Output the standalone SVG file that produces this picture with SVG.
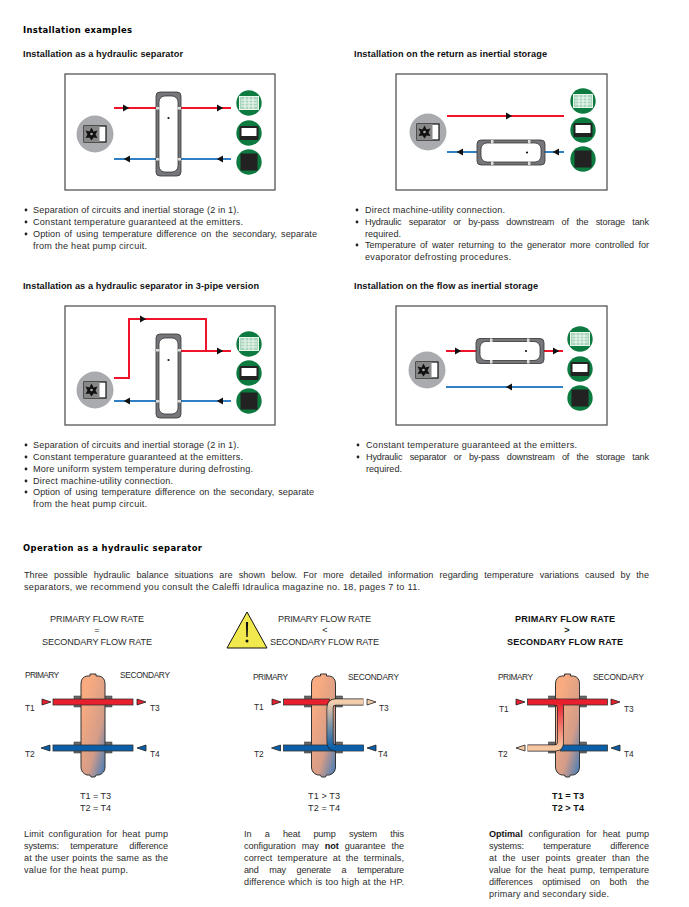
<svg xmlns="http://www.w3.org/2000/svg" width="689" height="907" viewBox="0 0 689 907">
<style>
text{font-family:"Liberation Sans",Arial,sans-serif;fill:#2b2b2b;font-size:9.1px}
.h{font-weight:bold;fill:#111;font-size:9.2px}
.h2{font-family:"DejaVu Sans",sans-serif;font-weight:bold;fill:#000;font-size:8.4px}
.b{font-weight:bold;fill:#111}
.s{font-size:8.4px}
.box{fill:#fff;stroke:#555;stroke-width:1.3}
.red{fill:none;stroke:#f0142a;stroke-width:2}
.blue{fill:none;stroke:#2f80c4;stroke-width:2}
.br{fill:#e81f2d;stroke:#333;stroke-width:.8}
.bb{fill:#0b5fa8;stroke:#333;stroke-width:.8}
.fl{fill:#6a6a6a;stroke:#333;stroke-width:.5}
</style>
<defs>
<linearGradient id="gb" x1="0.2" y1="0.2" x2="0.9" y2="1"><stop offset="0" stop-color="#f8ab80"/><stop offset=".6" stop-color="#d49c88"/><stop offset="1" stop-color="#4f7fb5"/></linearGradient>
<linearGradient id="g2" gradientUnits="userSpaceOnUse" x1="0" y1="702" x2="0" y2="748"><stop offset="0" stop-color="#f4cdaa"/><stop offset="1" stop-color="#0b5fa8"/></linearGradient>
<linearGradient id="g3" gradientUnits="userSpaceOnUse" x1="0" y1="702" x2="0" y2="748"><stop offset="0" stop-color="#e81f2d"/><stop offset="1" stop-color="#f6c8a2"/></linearGradient>
<path id="ah" d="M-3-3.4L3.2 0L-3 3.4z" fill="#111"/>
<g id="hp"><circle r="18.500" fill="#a9abae"/><rect x="-11" y="-8" width="22" height="16" fill="#fff" stroke="#111" stroke-width="1.200"/><rect x="-11" y="-8" width="15.500" height="16" fill="#888"/><path d="M-3.500-6.500L-1.500-2.500L2.500-3.500L0.500 0.500L2.500 4L-1.500 3.500L-3.500 6.500L-5.500 3.500L-9.500 4L-7.500 0.500L-9.500-3.500L-5.500-2.500Z" fill="#111"/><circle cx="-3.500" r="1.300" fill="#aaa"/></g>
<g id="e1"><circle r="12.700" fill="#0d7a40"/><rect x="-9.500" y="-6.500" width="19" height="13" fill="#a8d5bb" stroke="#e8f4ec" stroke-width="1"/><path d="M-8-3H8M-8 0H8M-8 3H8M-4-6V6M0-6V6M4-6V6" stroke="#fff" stroke-width=".8"/></g>
<g id="e2"><circle r="12.700" fill="#0d7a40"/><rect x="-9.500" y="-7" width="19" height="14" rx="1.500" fill="#222"/><rect x="-7.500" y="-5" width="15" height="8" fill="#fff"/></g>
<g id="e3"><circle r="12.700" fill="#0d7a40"/><rect x="-8.500" y="-8.500" width="17" height="17" fill="#222"/></g>
<g id="tank"><rect x="-12.500" y="-42" width="25" height="84" rx="4" fill="#75777a" stroke="#333" stroke-width=".8"/><rect x="-9.500" y="-38" width="19" height="76" rx="6" fill="#fff" stroke="#222" stroke-width=".7"/><circle cy="-16" r="1.100" fill="#111"/><rect x="-12.500" y="-27" width="3.500" height="2.500" fill="#ddd"/><rect x="9" y="-27" width="3.500" height="2.500" fill="#ddd"/><rect x="-12.500" y="24" width="3.500" height="2.500" fill="#ddd"/><rect x="9" y="24" width="3.500" height="2.500" fill="#ddd"/></g>
<g id="htank"><rect x="-34" y="-12.500" width="68" height="25" rx="4" fill="#75777a" stroke="#333" stroke-width=".8"/><rect x="-30" y="-9.500" width="60" height="19" rx="6" fill="#fff" stroke="#222" stroke-width=".7"/><circle cx="16" r="1.100" fill="#111"/><rect x="-20" y="-12.500" width="2.500" height="3.500" fill="#ddd"/><rect x="17" y="-12.500" width="2.500" height="3.500" fill="#ddd"/><rect x="-20" y="9" width="2.500" height="3.500" fill="#ddd"/><rect x="17" y="9" width="2.500" height="3.500" fill="#ddd"/></g>
<path id="body" d="M-12 684Q-12 677-6 676L-3 676L-3 674L3 674L3 676L6 676Q12 677 12 684V767Q12 773 6 775L3 775L2 777L-2 777L-3 775L-6 775Q-12 773-12 767Z" fill="url(#gb)" stroke="#333"/>
<g id="fls"><rect x="-19" y="696" width="38" height="11" class="fl"/><rect x="-19" y="742" width="38" height="11" class="fl"/></g>
<path id="tr" d="M-4.500-3L4.500 0L-4.500 3z" stroke="#222" stroke-width=".8"/>
</defs>
<rect width="689" height="907" fill="#fff"/>

<g id="headings">
<text class="h2" x="23" y="33" textLength="109">Installation examples</text>
<text class="h" x="23" y="57" textLength="160">Installation as a hydraulic separator</text>
<text class="h" x="354" y="57" textLength="193">Installation on the return as inertial storage</text>
<text class="h" x="23" y="289" textLength="236">Installation as a hydraulic separator in 3-pipe version</text>
<text class="h" x="354" y="289" textLength="184">Installation on the flow as inertial storage</text>
<text class="h2" x="23" y="551" textLength="179">Operation as a hydraulic separator</text>
</g>

<g id="panels">
<rect class="box" x="65" y="74" width="210" height="116"/>
<rect class="box" x="396" y="74" width="211" height="116"/>
<rect class="box" x="65" y="306" width="210" height="119"/>
<rect class="box" x="396" y="306" width="211" height="119"/>
</g>

<g id="connectors">
<path class="red" d="M114 108H156M181 108H231"/>
<path class="blue" d="M114 159H156M181 159H231"/>
<use href="#ah" x="126" y="108"/><use href="#ah" x="220" y="108"/>
<use href="#ah" transform="translate(127 159) rotate(180)"/><use href="#ah" transform="translate(220 159) rotate(180)"/>
<path class="red" d="M447 116H564"/>
<path class="blue" d="M447 152H477M545 152H564"/>
<use href="#ah" x="509" y="116"/>
<use href="#ah" transform="translate(460 152) rotate(180)"/><use href="#ah" transform="translate(556 152) rotate(180)"/>
<path class="red" d="M114 378H129V319H206V351M181 351H231"/>
<path class="blue" d="M114 401H156M181 401H231"/>
<use href="#ah" x="143" y="319"/><use href="#ah" x="220" y="351"/>
<use href="#ah" transform="translate(127 401) rotate(180)"/><use href="#ah" transform="translate(220 401) rotate(180)"/>
<path class="red" d="M446 351H476M544 351H563"/>
<path class="blue" d="M446 387H563"/>
<use href="#ah" x="458" y="351"/><use href="#ah" x="556" y="351"/>
<use href="#ah" transform="translate(509 387) rotate(180)"/>
</g>

<g id="install-1">
<use href="#hp" x="95" y="134"/><use href="#tank" x="168.500" y="134"/>
<use href="#e1" x="249" y="103"/><use href="#e2" x="249" y="133"/><use href="#e3" x="249" y="162"/>
</g>
<g id="install-2">
<use href="#hp" x="428" y="132"/><use href="#htank" x="511" y="152.500"/>
<use href="#e1" x="583" y="101"/><use href="#e2" x="583" y="130"/><use href="#e3" x="583" y="159"/>
</g>
<g id="install-3">
<use href="#hp" x="95" y="390"/><use href="#tank" x="168.500" y="376"/>
<use href="#e1" x="249" y="344"/><use href="#e2" x="249" y="373"/><use href="#e3" x="249" y="401"/>
</g>
<g id="install-4">
<use href="#hp" x="427" y="370"/><use href="#htank" x="510" y="351"/>
<use href="#e1" x="580" y="339"/><use href="#e2" x="580" y="369"/><use href="#e3" x="580" y="398"/>
</g>

<g id="bullets" fill="#222">
<circle cx="26" cy="210" r="1.400"/><circle cx="26" cy="222" r="1.400"/><circle cx="26" cy="234" r="1.400"/>
<circle cx="357" cy="210" r="1.400"/><circle cx="357" cy="222" r="1.400"/><circle cx="357" cy="245" r="1.400"/>
<circle cx="26" cy="445" r="1.400"/><circle cx="26" cy="457" r="1.400"/><circle cx="26" cy="469" r="1.400"/><circle cx="26" cy="481" r="1.400"/><circle cx="26" cy="492" r="1.400"/>
<circle cx="358" cy="445" r="1.400"/><circle cx="358" cy="457" r="1.400"/>
</g>
<g id="text-1">
<text x="33" y="213" textLength="206">Separation of circuits and inertial storage (2 in 1).</text>
<text x="33" y="225" textLength="210">Constant temperature guaranteed at the emitters.</text>
<text x="33" y="237" textLength="284" word-spacing="1.500">Option of using temperature difference on the secondary, separate</text>
<text x="33" y="249" textLength="114">from the heat pump circuit.</text>
</g>
<g id="text-2">
<text x="365" y="213" textLength="140">Direct machine-utility connection.</text>
<text x="365" y="225" textLength="284" word-spacing="5">Hydraulic separator or by-pass downstream of the storage tank</text>
<text x="365" y="237" textLength="36">required.</text>
<text x="365" y="248" textLength="284" word-spacing="1.800">Temperature of water returning to the generator more controlled for</text>
<text x="365" y="260" textLength="146">evaporator defrosting procedures.</text>
</g>
<g id="text-3">
<text x="33" y="448" textLength="206">Separation of circuits and inertial storage (2 in 1).</text>
<text x="33" y="460" textLength="210">Constant temperature guaranteed at the emitters.</text>
<text x="33" y="472" textLength="220">More uniform system temperature during defrosting.</text>
<text x="33" y="484" textLength="140">Direct machine-utility connection.</text>
<text x="33" y="495" textLength="281" word-spacing="1.200">Option of using temperature difference on the secondary, separate</text>
<text x="33" y="507" textLength="114">from the heat pump circuit.</text>
</g>
<g id="text-4">
<text x="366" y="448" textLength="211">Constant temperature guaranteed at the emitters.</text>
<text x="366" y="460" textLength="283" word-spacing="5">Hydraulic separator or by-pass downstream of the storage tank</text>
<text x="366" y="472" textLength="36">required.</text>
</g>

<g id="intro">
<text x="24" y="578" textLength="625" word-spacing="3.500">Three possible hydraulic balance situations are shown below. For more detailed information regarding temperature variations caused by the</text>
<text x="24" y="590" textLength="396">separators, we recommend you consult the Caleffi Idraulica magazine no. 18, pages 7 to 11.</text>
</g>

<g id="flow-1">
<text x="50" y="622" textLength="94">PRIMARY FLOW RATE</text>
<text x="97" y="633" text-anchor="middle">=</text>
<text x="42" y="645" textLength="110">SECONDARY FLOW RATE</text>
</g>
<g id="warning">
<path d="M247 612L267 648H227Z" fill="#f2e94e" stroke="#111" stroke-width="1"/>
<path d="M245.900 622H248.100L247.700 637H246.300Z" fill="#111"/><circle cx="247" cy="641" r="1.500" fill="#111"/>
</g>
<g id="flow-2">
<text x="278" y="622" textLength="93">PRIMARY FLOW RATE</text>
<text x="325" y="633" text-anchor="middle">&lt;</text>
<text x="270" y="645" textLength="109">SECONDARY FLOW RATE</text>
</g>
<g id="flow-3">
<text class="b" x="515" y="622" textLength="100">PRIMARY FLOW RATE</text>
<text class="b" x="567" y="633" text-anchor="middle">&gt;</text>
<text class="b" x="507" y="645" textLength="116">SECONDARY FLOW RATE</text>
</g>

<g id="sep-1">
<g transform="translate(93 0)">
<use href="#fls"/><use href="#body"/>
<rect class="br" x="-40" y="699" width="80" height="6"/>
<rect class="bb" x="-40" y="745" width="80" height="6"/>
</g>
<use href="#tr" x="46.500" y="702" fill="#e81f2d"/><use href="#tr" x="141.500" y="702" fill="#e81f2d"/>
<use href="#tr" transform="translate(45.500 748) rotate(180)" fill="#0b5fa8"/><use href="#tr" transform="translate(141.500 748) rotate(180)" fill="#0b5fa8"/>
<text class="s" x="25" y="678" textLength="34">PRIMARY</text><text class="s" x="120" y="678" textLength="50">SECONDARY</text>
<text class="s" x="25" y="711">T1</text><text class="s" x="150" y="711">T3</text>
<text class="s" x="25" y="757">T2</text><text class="s" x="150" y="757">T4</text>
<text x="80" y="799" textLength="31">T1 = T3</text><text x="80" y="811" textLength="31">T2 = T4</text>
</g>
<g id="sep-2">
<g transform="translate(323.500 0)">
<use href="#fls"/><use href="#body"/>
<rect class="bb" x="-40" y="745" width="80" height="6"/>
<rect class="br" x="-40" y="699" width="46" height="6"/>
<path d="M40 702H12.500Q6.500 702 6.500 708V742Q6.500 748 12.500 748" fill="none" stroke="#222" stroke-width="7"/>
<path d="M40 702H12.500Q6.500 702 6.500 708V742Q6.500 748 12.500 748" fill="none" stroke="url(#g2)" stroke-width="5.500"/>
<path d="M12 745.500H40V750.500H12Z" fill="#0b5fa8"/>
</g>
<use href="#tr" x="276.500" y="702" fill="#e81f2d"/><use href="#tr" x="371.500" y="702" fill="#f4cdaa"/>
<use href="#tr" transform="translate(276 748) rotate(180)" fill="#0b5fa8"/><use href="#tr" transform="translate(371.500 748) rotate(180)" fill="#0b5fa8"/>
<text class="s" x="253" y="680" textLength="35">PRIMARY</text><text class="s" x="348" y="680" textLength="51">SECONDARY</text>
<text class="s" x="254" y="710">T1</text><text class="s" x="379" y="711">T3</text>
<text class="s" x="254" y="757">T2</text><text class="s" x="378" y="757">T4</text>
<text x="308" y="799" textLength="32">T1 &gt; T3</text><text x="308" y="811" textLength="32">T2 = T4</text>
</g>
<g id="sep-3">
<g transform="translate(567.500 0)">
<use href="#fls"/><use href="#body"/>
<rect class="br" x="-40" y="699" width="80" height="6"/>
<rect class="bb" x="-7" y="745" width="47" height="6"/>
<path d="M-40 748H-13Q-7 748-7 742V708Q-7 702-13 702" fill="none" stroke="#222" stroke-width="7"/>
<path d="M-40 748H-13Q-7 748-7 742V708Q-7 702-13 702" fill="none" stroke="url(#g3)" stroke-width="5.500"/>
<path d="M-14 699.500H-2V704.500H-14Z" fill="#e81f2d"/>
</g>
<use href="#tr" x="520.500" y="702" fill="#e81f2d"/><use href="#tr" x="615.500" y="702" fill="#e81f2d"/>
<use href="#tr" transform="translate(520.500 748) rotate(180)" fill="#f6c8a2"/><use href="#tr" transform="translate(615.500 748) rotate(180)" fill="#0b5fa8"/>
<text class="s" x="498" y="680" textLength="35">PRIMARY</text><text class="s" x="593" y="680" textLength="51">SECONDARY</text>
<text class="s" x="499" y="712">T1</text><text class="s" x="624" y="712">T3</text>
<text class="s" x="498" y="757">T2</text><text class="s" x="624" y="757">T4</text>
<text class="b" x="552" y="799" textLength="32">T1 = T3</text><text class="b" x="552" y="811" textLength="32">T2 &gt; T4</text>
</g>

<g id="note-1">
<text x="24" y="837" textLength="144" word-spacing="2">Limit configuration for heat pump</text>
<text x="24" y="849" textLength="144" word-spacing="9">systems: temperature difference</text>
<text x="24" y="861" textLength="144" word-spacing=".5">at the user points the same as the</text>
<text x="24" y="873" textLength="104">value for the heat pump.</text>
</g>
<g id="note-2">
<text x="244" y="837" textLength="160" word-spacing="11">In a heat pump system this</text>
<text x="244" y="849" textLength="160" word-spacing="3.500">configuration may <tspan class="b">not</tspan> guarantee the</text>
<text x="244" y="861" textLength="160" word-spacing="2.500">correct temperature at the terminals,</text>
<text x="244" y="873" textLength="160" word-spacing="8.500">and may generate a temperature</text>
<text x="244" y="885" textLength="160" word-spacing=".5">difference which is too high at the HP.</text>
</g>
<g id="note-3">
<text x="489" y="837" textLength="160" word-spacing="3.500"><tspan class="b">Optimal</tspan> configuration for heat pump</text>
<text x="489" y="849" textLength="160" word-spacing="17">systems: temperature difference</text>
<text x="489" y="861" textLength="160" word-spacing="3">at the user points greater than the</text>
<text x="489" y="873" textLength="160" word-spacing="2">value for the heat pump, temperature</text>
<text x="489" y="885" textLength="160" word-spacing="7">differences optimised on both the</text>
<text x="489" y="897" textLength="120">primary and secondary side.</text>
</g>
</svg>
